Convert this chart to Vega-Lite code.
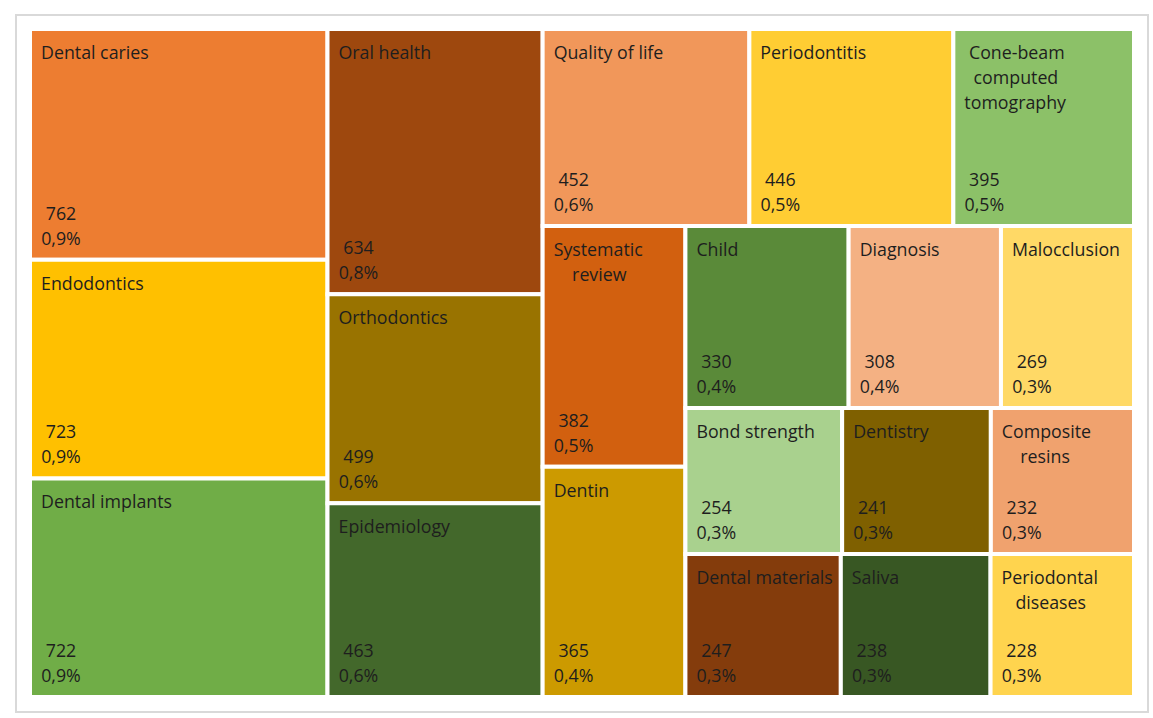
{
  "$schema": "https://vega.github.io/schema/vega-lite/v6.json",
  "width": 1132,
  "height": 697,
  "padding": {"left": 16, "top": 15, "right": 5, "bottom": 6},
  "background": "white",
  "config": {"view": {"stroke": "#d9d9d9", "strokeWidth": 2}},
  "data": {
    "values": [
      {"term": "Dental caries", "label": "Dental caries", "count": 762, "pct": "0,9%", "group": 1},
      {"term": "Endodontics", "label": "Endodontics", "count": 723, "pct": "0,9%", "group": 1},
      {"term": "Dental implants", "label": "Dental implants", "count": 722, "pct": "0,9%", "group": 1},
      {"term": "Oral health", "label": "Oral health", "count": 634, "pct": "0,8%", "group": 2},
      {"term": "Orthodontics", "label": "Orthodontics", "count": 499, "pct": "0,6%", "group": 2},
      {"term": "Epidemiology", "label": "Epidemiology", "count": 463, "pct": "0,6%", "group": 2},
      {"term": "Quality of life", "label": "Quality of life", "count": 452, "pct": "0,6%", "group": 3},
      {"term": "Periodontitis", "label": "Periodontitis", "count": 446, "pct": "0,5%", "group": 3},
      {"term": "Cone-beam computed tomography", "label": "\u200b\u00a0Cone-beam\n\u200b\u00a0\u00a0computed\ntomography", "count": 395, "pct": "0,5%", "group": 3},
      {"term": "Systematic review", "label": "Systematic\n\u200b\u00a0\u00a0\u00a0\u00a0review", "count": 382, "pct": "0,5%", "group": 4},
      {"term": "Dentin", "label": "Dentin", "count": 365, "pct": "0,4%", "group": 4},
      {"term": "Child", "label": "Child", "count": 330, "pct": "0,4%", "group": 5},
      {"term": "Diagnosis", "label": "Diagnosis", "count": 308, "pct": "0,4%", "group": 5},
      {"term": "Malocclusion", "label": "Malocclusion", "count": 269, "pct": "0,3%", "group": 5},
      {"term": "Bond strength", "label": "Bond strength", "count": 254, "pct": "0,3%", "group": 6},
      {"term": "Dentistry", "label": "Dentistry", "count": 241, "pct": "0,3%", "group": 6},
      {"term": "Composite resins", "label": "Composite\n\u200b\u00a0\u00a0\u00a0\u00a0resins", "count": 232, "pct": "0,3%", "group": 6},
      {"term": "Dental materials", "label": "Dental materials", "count": 247, "pct": "0,3%", "group": 7},
      {"term": "Saliva", "label": "Saliva", "count": 238, "pct": "0,3%", "group": 7},
      {"term": "Periodontal diseases", "label": "Periodontal\n\u200b\u00a0\u00a0\u00a0diseases", "count": 228, "pct": "0,3%", "group": 7}
    ]
  },
  "transform": [
    {"joinaggregate": [{"op": "sum", "field": "count", "as": "total"}]},
    {"calculate": "datum.count/datum.total", "as": "f"},
    {"window": [{"op": "sum", "field": "f", "as": "cum"}], "groupby": ["group"], "sort": [{"field": "count", "order": "descending"}], "frame": [null, 0]},
    {"joinaggregate": [{"op": "sum", "field": "f", "as": "gs"}], "groupby": ["group"]},
    {"calculate": "datum.group==1?datum.f:0", "as": "f1"},
    {"calculate": "datum.group==2?datum.f:0", "as": "f2"},
    {"calculate": "datum.group==3?datum.f:0", "as": "f3"},
    {"calculate": "datum.group==4?datum.f:0", "as": "f4"},
    {"calculate": "datum.group==5?datum.f:0", "as": "f5"},
    {"calculate": "datum.group==6?datum.f:0", "as": "f6"},
    {"joinaggregate": [
      {"op": "sum", "field": "f1", "as": "s1"},
      {"op": "sum", "field": "f2", "as": "s2"},
      {"op": "sum", "field": "f3", "as": "s3"},
      {"op": "sum", "field": "f4", "as": "s4"},
      {"op": "sum", "field": "f5", "as": "s5"},
      {"op": "sum", "field": "f6", "as": "s6"}
    ]},
    {"calculate": "datum.s1+datum.s2", "as": "xa"},
    {"calculate": "datum.s3/(1-datum.xa)", "as": "ya"},
    {"calculate": "datum.xa+datum.s4/(1-datum.ya)", "as": "xb"},
    {"calculate": "datum.ya+datum.s5/(1-datum.xb)", "as": "yb"},
    {"calculate": "datum.yb+datum.s6/(1-datum.xb)", "as": "yc"},
    {"calculate": "datum.group==1?0:datum.group==2?datum.s1:datum.group<=4?datum.xa:datum.xb", "as": "sx0"},
    {"calculate": "datum.group==1?datum.s1:datum.group==2?datum.xa:datum.group==4?datum.xb:1", "as": "sx1"},
    {"calculate": "datum.group<=3?0:datum.group<=5?datum.ya:datum.group==6?datum.yb:datum.yc", "as": "sy0"},
    {"calculate": "datum.group<=2?1:datum.group==3?datum.ya:datum.group==4?1:datum.group==5?datum.yb:datum.group==6?datum.yc:1", "as": "sy1"},
    {"calculate": "datum.group==1||datum.group==2||datum.group==4", "as": "vert"},
    {"calculate": "datum.vert?datum.sx0:datum.sx0+(datum.cum-datum.f)/datum.gs*(datum.sx1-datum.sx0)", "as": "x0"},
    {"calculate": "datum.vert?datum.sx1:datum.sx0+datum.cum/datum.gs*(datum.sx1-datum.sx0)", "as": "x1"},
    {"calculate": "datum.vert?datum.sy0+(datum.cum-datum.f)/datum.gs*(datum.sy1-datum.sy0):datum.sy0", "as": "y0"},
    {"calculate": "datum.vert?datum.sy0+datum.cum/datum.gs*(datum.sy1-datum.sy0):datum.sy1", "as": "y1"},
    {"calculate": "datum.count+'\\n'+datum.pct", "as": "valtext"}
  ],
  "encoding": {
    "x": {"field": "x0", "type": "quantitative", "scale": {"domain": [0, 1], "range": [14, 1118], "nice": false, "zero": false}, "axis": null},
    "y": {"field": "y0", "type": "quantitative", "scale": {"domain": [0, 1], "range": [14, 682], "nice": false, "zero": false}, "axis": null}
  },
  "layer": [
    {
      "mark": {"type": "rect", "stroke": "white", "strokeWidth": 4, "opacity": 1},
      "encoding": {
        "x2": {"field": "x1"},
        "y2": {"field": "y1"},
        "color": {
          "field": "term",
          "type": "nominal",
          "legend": null,
          "scale": {
            "domain": ["Dental caries", "Endodontics", "Dental implants", "Oral health", "Orthodontics", "Epidemiology", "Quality of life", "Periodontitis", "Cone-beam computed tomography", "Systematic review", "Dentin", "Child", "Diagnosis", "Malocclusion", "Bond strength", "Dentistry", "Composite resins", "Dental materials", "Saliva", "Periodontal diseases"],
            "range": ["#ED7D31", "#FFC000", "#70AD47", "#9E480E", "#997300", "#43682B", "#F1975A", "#FFCD33", "#8CC168", "#D2600F", "#CC9A00", "#5A8A39", "#F4B183", "#FFD966", "#A9D18E", "#7F6000", "#F0A26E", "#843C0C", "#385723", "#FFD44E"]
          }
        }
      }
    },
    {
      "mark": {"type": "text", "align": "left", "baseline": "alphabetic", "dx": 11, "dy": 30, "font": "Open Sans", "fontSize": 17.8, "color": "#1e1e1e", "lineBreak": "\n", "lineHeight": 25},
      "encoding": {"text": {"field": "label", "type": "nominal"}}
    },
    {
      "mark": {"type": "text", "align": "center", "baseline": "alphabetic", "dx": 31, "dy": -40, "font": "Open Sans", "fontSize": 17.8, "color": "#1e1e1e", "lineBreak": "\n", "lineHeight": 25},
      "encoding": {
        "y": {"field": "y1", "type": "quantitative"},
        "text": {"field": "valtext", "type": "nominal"}
      }
    }
  ]
}
